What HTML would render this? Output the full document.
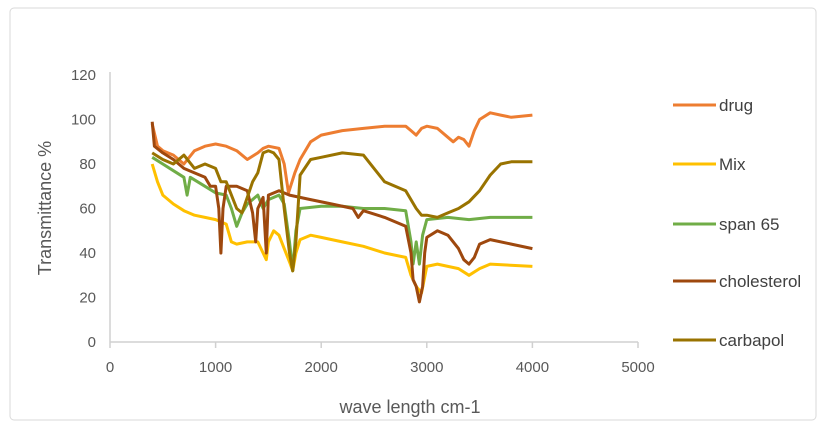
<!DOCTYPE html>
<html><head><meta charset="utf-8"><style>
body{margin:0;background:#fff;}
svg{display:block;font-family:"Liberation Sans",sans-serif;}
</style></head><body>
<svg id="chart" width="821" height="432" viewBox="0 0 821 432">
<rect x="10" y="8" width="806" height="412" rx="4" fill="#fff" stroke="#d9d9d9" stroke-width="1"/>
<g id="axes"></g>
<g id="series"></g>
<g id="legend"></g>
</svg>
<script>
const xTicks=[0,1000,2000,3000,4000,5000];
const yTicks=[0,20,40,60,80,100,120];
const seriesNames=["drug","Mix","span 65","cholesterol","carbapol"];
const seriesColors=["#ED7D31","#FFC000","#70AD47","#9E480E","#997300"];
const drugX=[400,450,500,600,700,800,900,1000,1100,1200,1300,1400,1450,1500,1600,1650,1690,1750,1800,1900,2000,2200,2400,2600,2800,2850,2900,2950,3000,3100,3200,3250,3300,3350,3400,3450,3500,3600,3700,3800,4000];
const drugY=[98,88,86,84,80,86,88,89,88,86,82,85,87,88,87,80,67,76,82,90,93,95,96,97,97,95,93,96,97,96,92,90,92,91,88,95,100,103,102,101,102];
const mixX=[400,450,500,600,700,800,900,1000,1100,1150,1200,1300,1400,1450,1480,1500,1550,1600,1650,1700,1730,1760,1800,1900,2000,2200,2400,2600,2800,2850,2900,2950,3000,3100,3200,3300,3400,3500,3600,4000];
const mixY=[80,72,66,62,59,57,56,55,53,45,44,45,45,40,37,45,50,48,42,36,32,40,46,48,47,45,43,40,38,30,25,22,34,35,34,33,30,33,35,34];
const spanX=[400,500,600,700,730,760,900,1000,1100,1150,1200,1250,1300,1400,1450,1500,1600,1650,1700,1730,1760,1800,2000,2200,2400,2600,2800,2850,2870,2900,2930,2960,3000,3200,3400,3600,4000];
const spanY=[83,80,77,74,66,74,70,67,66,60,52,58,62,66,60,64,66,62,45,32,50,60,61,61,60,60,59,45,35,45,35,48,55,56,55,56,56];
const cholX=[400,420,500,600,700,800,900,950,1000,1030,1050,1070,1100,1200,1300,1350,1380,1400,1450,1480,1500,1600,1700,1900,2100,2300,2350,2400,2600,2800,2850,2870,2900,2930,2960,2980,3000,3100,3200,3300,3350,3400,3450,3500,3600,3800,4000];
const cholY=[99,88,85,82,78,76,74,70,70,60,40,60,70,70,68,58,45,60,65,40,66,68,66,64,62,60,56,59,56,52,40,28,25,18,25,40,47,50,48,42,37,35,38,44,46,44,42];
const carbX=[400,500,600,700,800,900,1000,1050,1100,1200,1250,1300,1350,1400,1450,1500,1550,1600,1650,1700,1730,1760,1800,1900,2000,2200,2400,2500,2600,2700,2800,2900,2950,3000,3100,3200,3300,3400,3500,3600,3700,3800,4000];
const carbY=[85,82,80,84,78,80,78,72,72,60,58,65,72,76,85,86,85,82,60,40,32,45,75,82,83,85,84,78,72,70,68,60,57,57,56,58,60,63,68,75,80,81,81];
const seriesX=[drugX,mixX,spanX,cholX,carbX];
const seriesY=[drugY,mixY,spanY,cholY,carbY];

const NS="http://www.w3.org/2000/svg";
const X0=110,X1=638,Y0=342,Y1=75;
function sx(v){return X0+(v-0)/(5000-0)*(X1-X0);}
function sy(v){return Y0-(v-0)/(120-0)*(Y0-Y1);}
function mk(tag,attrs,parent){const e=document.createElementNS(NS,tag);for(const k in attrs)e.setAttribute(k,attrs[k]);parent.appendChild(e);return e;}
const axes=document.getElementById('axes');
let yl=mk('line',{x1:X0,y1:Y1-3,x2:X0,y2:Y0,stroke:'#d0d0d0','stroke-width':1.5},axes);


let xl=mk('line',{x1:X0,y1:Y0,x2:X1,y2:Y0,stroke:'#d0d0d0','stroke-width':1.5},axes);


xTicks.forEach(t=>{
  let tk=mk('line',{x1:sx(t),y1:Y0,x2:sx(t),y2:Y0+6,stroke:'#d0d0d0','stroke-width':1.5},axes);
  
  
  let tx=mk('text',{x:sx(t),y:Y0+30,'text-anchor':'middle','font-size':15,fill:'#595959'},axes);
  
  
  tx.textContent=t;
});
yTicks.forEach(t=>{
  let tx=mk('text',{x:X0-14,y:sy(t)+5,'text-anchor':'end','font-size':15,fill:'#595959'},axes);
  
  
  tx.textContent=t;
});
let xt=mk('text',{x:410,y:413,'text-anchor':'middle','font-size':18,fill:'#595959'},axes);


xt.textContent='wave length cm-1';
let yt=mk('text',{x:51,y:208,'text-anchor':'middle','font-size':18,fill:'#595959',transform:'rotate(-90 51 208)'},axes);


yt.textContent='Transmittance %';
const sg=document.getElementById('series');
const lg=document.getElementById('legend');
const legY=[105,164,224,281,340];
seriesNames.forEach((n,i)=>{
  const d=seriesX[i].map((x,j)=>(j?'L':'M')+sx(x).toFixed(1)+' '+sy(seriesY[i][j]).toFixed(1)).join(' ');
  let p=mk('path',{d:d,fill:'none',stroke:seriesColors[i],'stroke-width':3,'stroke-linejoin':'round'},sg);
  
  
  let l=mk('line',{x1:673,y1:legY[i],x2:716,y2:legY[i],stroke:seriesColors[i],'stroke-width':3},lg);
  
  
  let t=mk('text',{x:719,y:legY[i]+6,'font-size':17,fill:'#404040'},lg);
  
  
  t.textContent=n;
});
</script>
</body></html>
